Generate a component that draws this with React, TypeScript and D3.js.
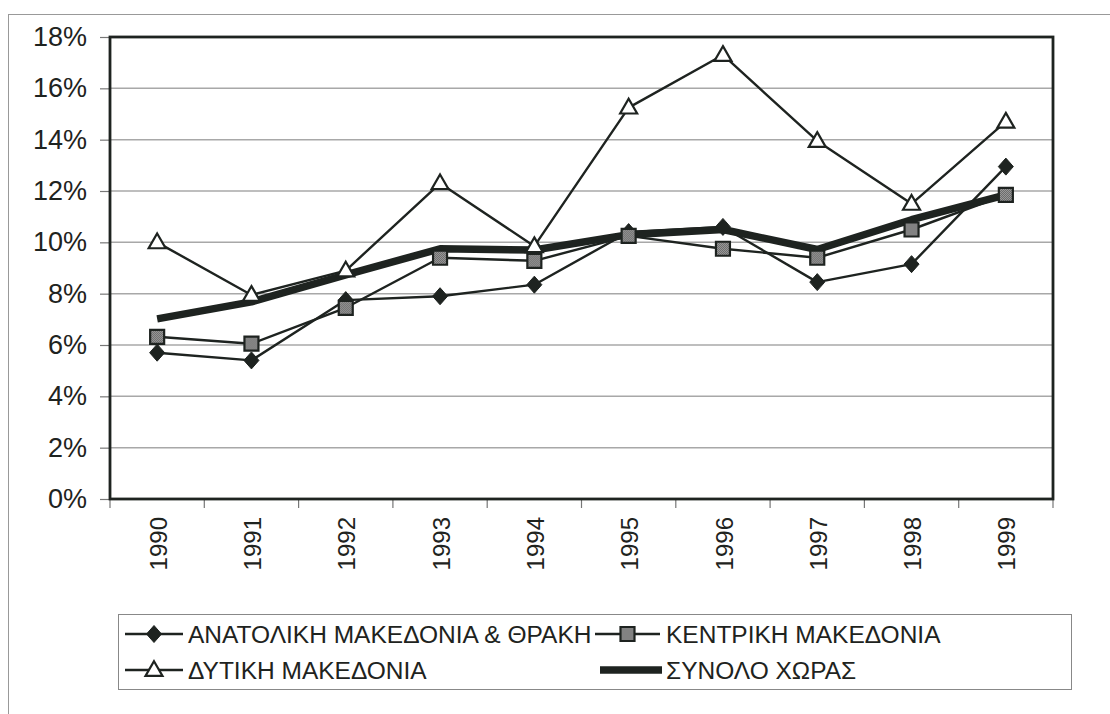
import React, { useEffect, useRef } from "react"
import * as d3 from "d3"

const years = ["1990", "1991", "1992", "1993", "1994", "1995", "1996", "1997", "1998", "1999"]
const yTicks = [0, 2, 4, 6, 8, 10, 12, 14, 16, 18]

const anatoliki = [5.7, 5.4, 7.75, 7.9, 8.35, 10.4, 10.6, 8.45, 9.15, 12.95]
const kentriki = [6.32, 6.05, 7.45, 9.4, 9.28, 10.25, 9.75, 9.4, 10.5, 11.85]
const dytiki = [10.0, 7.95, 8.9, 12.3, 9.85, 15.25, 17.3, 13.95, 11.5, 14.7]
const synolo = [7.02, 7.68, 8.73, 9.75, 9.7, 10.3, 10.5, 9.72, 10.88, 11.85]

const seriesNames = ["ΑΝΑΤΟΛΙΚΗ ΜΑΚΕΔΟΝΙΑ & ΘΡΑΚΗ", "ΚΕΝΤΡΙΚΗ ΜΑΚΕΔΟΝΙΑ", "ΔΥΤΙΚΗ ΜΑΚΕΔΟΝΙΑ", "ΣΥΝΟΛΟ ΧΩΡΑΣ"]

const ink = "#1e2320"
const font = "'Liberation Sans', Arial, sans-serif"

const diamondPath = "M0,-8.5L7.5,0L0,8.5L-7.5,0Z"
const squarePath = "M-7,-7H7V7H-7Z"
const trianglePath = d3.symbol(d3.symbolTriangle, 125)() as string

function drawMarker(g, kind, x, y) {
	if (kind === "diamond") {
		g.append("path").attr("d", diamondPath).attr("transform", `translate(${x},${y})`).attr("fill", ink).attr("stroke", ink).attr("stroke-width", 1)
	} else if (kind === "square") {
		g.append("path").attr("d", squarePath).attr("transform", `translate(${x},${y})`).attr("fill", "url(#dots)").attr("stroke", ink).attr("stroke-width", 2.2)
	} else if (kind === "triangle") {
		g.append("path").attr("d", trianglePath).attr("transform", `translate(${x},${y + 1})`).attr("fill", "white").attr("stroke", ink).attr("stroke-width", 2.2)
	}
}

export default function App() {
	const ref = useRef(null)

	useEffect(() => {
		const svg = d3.select(ref.current)
		svg.selectAll("*").remove()

		const left = 110
		const right = 1053
		const top = 37
		const bottom = 499

		const x = d3.scaleBand().domain(years).range([left, right])
		const y = d3.scaleLinear().domain([0, 18]).range([bottom, top])
		const cx = d => x(d) + x.bandwidth() / 2

		// dotted fill for the square markers
		const pat = svg.append("defs").append("pattern").attr("id", "dots").attr("width", 2).attr("height", 2).attr("patternUnits", "userSpaceOnUse")
		pat.append("rect").attr("width", 2).attr("height", 2).attr("fill", "#b0b0b0")
		pat.append("rect").attr("width", 1).attr("height", 1).attr("fill", "#555")
		pat.append("rect").attr("x", 1).attr("y", 1).attr("width", 1).attr("height", 1).attr("fill", "#555")

		// outer frame
		svg.append("line").attr("x1", 8).attr("x2", 1110).attr("y1", 14.5).attr("y2", 14.5).attr("stroke", "#999").attr("stroke-width", 1)
		svg.append("line").attr("x1", 8.5).attr("x2", 8.5).attr("y1", 14).attr("y2", 714).attr("stroke", "#999").attr("stroke-width", 1)

		// gridlines
		svg.append("g")
			.selectAll("line")
			.data(yTicks.filter(d => d > 0 && d < 18))
			.enter()
			.append("line")
			.attr("x1", left)
			.attr("x2", right)
			.attr("y1", d => y(d))
			.attr("y2", d => y(d))
			.attr("stroke", "#a8a8a8")
			.attr("stroke-width", 1.5)

		// y ticks and labels
		const yAxis = d3.axisLeft(y).tickValues(yTicks).tickSize(10).tickPadding(13).tickFormat(d => d + "%")
		const ya = svg.append("g").attr("transform", `translate(${left},0)`).call(yAxis)
		ya.select(".domain").remove()
		ya.selectAll("line").attr("stroke", "#777").attr("stroke-width", 1.2)
		ya.selectAll("text").attr("font-family", font).attr("font-size", 27).attr("fill", ink)

		// x ticks at band boundaries
		svg.append("g")
			.selectAll("line")
			.data(years.concat(["end"]))
			.enter()
			.append("line")
			.attr("x1", (d, i) => left + i * x.step())
			.attr("x2", (d, i) => left + i * x.step())
			.attr("y1", bottom)
			.attr("y2", bottom + 9)
			.attr("stroke", "#777")
			.attr("stroke-width", 1.2)

		svg.append("g")
			.selectAll("text")
			.data(years)
			.enter()
			.append("text")
			.text(d => d)
			.attr("transform", d => `translate(${cx(d) + 1},${bottom + 18}) rotate(-90)`)
			.attr("text-anchor", "end")
			.attr("dy", "0.36em")
			.attr("font-family", font)
			.attr("font-size", 24)
			.attr("fill", ink)

		// plot border
		svg.append("rect").attr("x", left).attr("y", top).attr("width", right - left).attr("height", bottom - top).attr("fill", "none").attr("stroke", ink).attr("stroke-width", 2.8)

		const line = d3.line().x((d, i) => cx(years[i])).y(d => y(d))

		const series = [
			{ values: anatoliki, marker: "diamond", width: 2.4 },
			{ values: kentriki, marker: "square", width: 2.4 },
			{ values: dytiki, marker: "triangle", width: 2.4 },
			{ values: synolo, marker: "none", width: 7.5 },
		]

		series.forEach(s => {
			svg.append("path").attr("d", line(s.values)).attr("fill", "none").attr("stroke", ink).attr("stroke-width", s.width).attr("stroke-linejoin", "round")
		})
		series.forEach(s => {
			const g = svg.append("g")
			s.values.forEach((v, i) => drawMarker(g, s.marker, cx(years[i]), y(v)))
		})

		// legend
		svg.append("rect").attr("x", 118.5).attr("y", 614.5).attr("width", 953).attr("height", 75).attr("fill", "none").attr("stroke", "#888").attr("stroke-width", 1)

		const legendItems = [
			{ name: seriesNames[0], marker: "diamond", lx: 125, ly: 634, tx: 188 },
			{ name: seriesNames[1], marker: "square", lx: 595, ly: 634, tx: 666 },
			{ name: seriesNames[2], marker: "triangle", lx: 125, ly: 670, tx: 188 },
			{ name: seriesNames[3], marker: "none", lx: 600, ly: 670, tx: 666 },
		]
		legendItems.forEach(it => {
			const g = svg.append("g")
			if (it.marker === "none") {
				g.append("line").attr("x1", it.lx).attr("x2", 662).attr("y1", it.ly).attr("y2", it.ly).attr("stroke", ink).attr("stroke-width", 7.5)
			} else {
				const lx2 = it.lx + (it.tx === 188 ? 58 : 65)
				g.append("line").attr("x1", it.lx).attr("x2", lx2).attr("y1", it.ly).attr("y2", it.ly).attr("stroke", ink).attr("stroke-width", 2.4)
				drawMarker(g, it.marker, (it.lx + lx2) / 2, it.ly)
			}
			g.append("text")
				.text(it.name)
				.attr("x", it.tx)
				.attr("y", it.ly)
				.attr("dy", "0.36em")
				.attr("font-family", font)
				.attr("font-size", 24.5)
				.attr("fill", ink)
		})
	}, [])

	return (
		<svg ref={ref} width={1110} height={714} style={{ position: "absolute", left: 0, top: 0, background: "white" }}></svg>
	)
}
